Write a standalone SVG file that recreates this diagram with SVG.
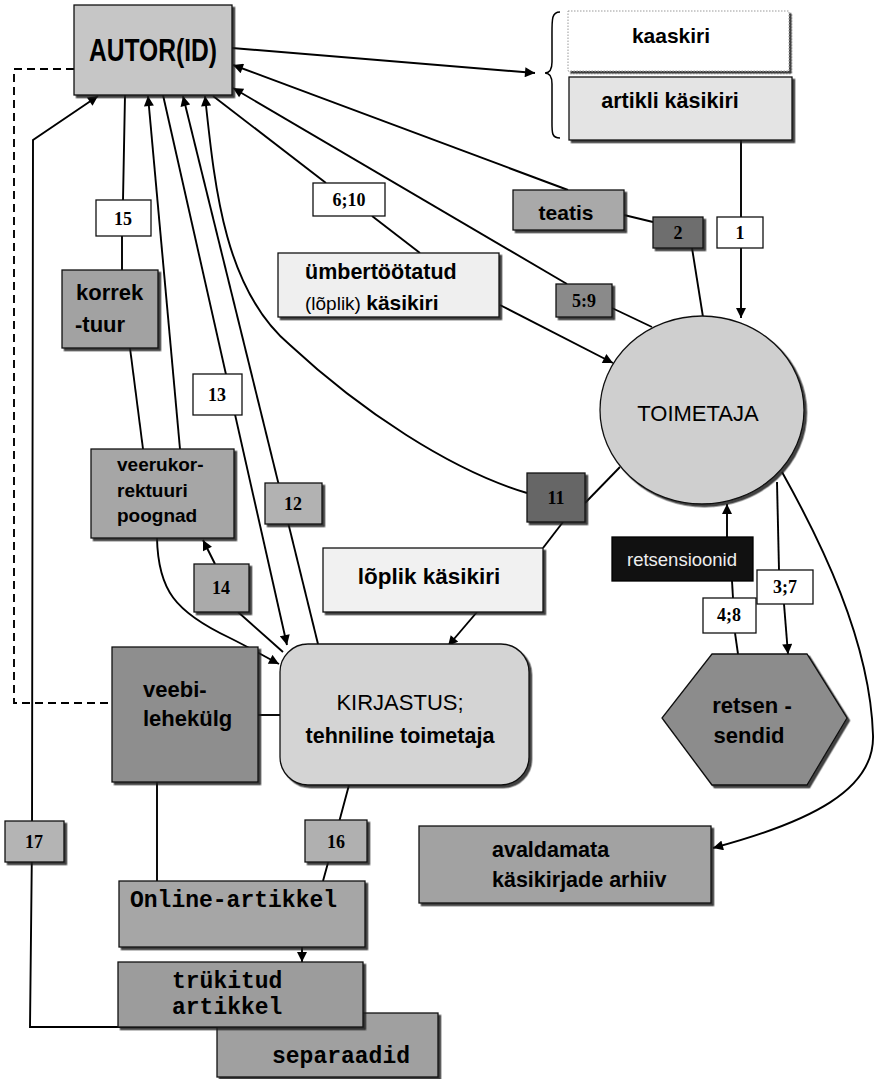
<svg xmlns="http://www.w3.org/2000/svg" width="877" height="1079" viewBox="0 0 877 1079">
<defs>
<marker id="ah" viewBox="0 0 10 10" refX="10" refY="5" markerWidth="12" markerHeight="10" markerUnits="userSpaceOnUse" orient="auto"><path d="M0,0 L10,5 L0,10 z" fill="#000"/></marker>
<filter id="ds" x="-10%" y="-10%" width="130%" height="130%"><feDropShadow dx="2.5" dy="2.5" stdDeviation="0.6" flood-color="#222" flood-opacity="0.85"/></filter>
</defs>
<style>
.c{fill:none;stroke:#000;stroke-width:1.9}
.a{marker-end:url(#ah)}
.n{stroke:#111;stroke-width:1.3;filter:url(#ds)}
.w{fill:#fff;stroke:#111;stroke-width:1.3}
.t{font-family:"Liberation Sans",Arial,sans-serif;font-weight:bold;fill:#000}
.r{font-family:"Liberation Sans",Arial,sans-serif;font-weight:normal;fill:#000}
.m{font-family:"Liberation Mono","Courier New",monospace;font-weight:bold;font-size:23px;fill:#000}
.num{font-family:"Liberation Serif","Times New Roman",serif;font-weight:bold;font-size:18px;fill:#000;text-anchor:middle}
</style>
<rect width="877" height="1079" fill="#fff"/>
<g id="connectors">
<path class="c a" d="M232,48 L535,73" stroke-width="2.5"/>
<path class="c a" d="M568,190 L233,65"/>
<path class="c a" d="M567,284 L233,88"/>
<path class="c" d="M612,308 L652,327"/>
<path class="c" d="M326,183 L213,96"/>
<path class="c" d="M420,253 L372,216"/>
<path class="c a" d="M500,305 L613,363"/>
<path class="c" d="M624,215 L653,222"/>
<path class="c" d="M692,248 L703,317"/>
<path class="c" d="M741,140 L741,217"/>
<path class="c a" d="M741,248 L741,318"/>
<path class="c a" d="M527,493 C450,470 360,410 290,345 C225,290 215,190 205,96"/>
<path class="c" d="M620,467 L585,503"/>
<path class="c" d="M563,522 L543,548"/>
<path class="c a" d="M477,612 L448,646"/>
<path class="c" d="M125,95 L123,200 M122,236 L122,270"/>
<path class="c" d="M130,348 L143,449"/>
<path class="c a" d="M180,449 L148,96"/>
<path class="c a" d="M163,95 L287,645"/>
<path class="c a" d="M318,644 L183,96"/>
<path class="c a" d="M157,538 C158,590 175,612 230,638 C250,648 264,656 279,664"/>
<path class="c" d="M283,652 L238,612"/>
<path class="c a" d="M215,564 L203,540"/>
<path class="c" d="M258,715 L280,715"/>
<path class="c" d="M74,69 L14,69 L14,703 L112,703" stroke-width="2" stroke-dasharray="8,5"/>
<path class="c a" d="M217,1027 L30,1027 L32,842 L33,140 L98,96"/>
<path class="c" d="M157,782 L157,881"/>
<path class="c" d="M349,785 L334,841 L323,881"/>
<path class="c a" d="M302,947 L302,962"/>
<path class="c" d="M777,482 L779,570"/>
<path class="c a" d="M784,604 L788,654"/>
<path class="c" d="M738,654 L735,633"/>
<path class="c" d="M733,598 L732,581"/>
<path class="c a" d="M727,537 L727,504"/>
<path class="c a" d="M782,472 C820,540 870,640 873,735 C875,790 810,822 713,848"/>
</g>
<g id="autor"><rect class="n" x="74" y="5" width="158" height="90" fill="#c6c6c6"/><text class="t" x="153" y="61" font-size="32" text-anchor="middle" textLength="128" lengthAdjust="spacingAndGlyphs">AUTOR(ID)</text></g>
<g id="brace"><path d="M560,12 C551,12 552,20 552,40 L552,62 C552,70 549,73 545,73 C549,73 552,76 552,84 L552,118 C552,132 551,138 560,138" fill="none" stroke="#000" stroke-width="1.5"/></g>
<g id="kaaskiri"><rect x="568" y="11" width="221" height="60" fill="#fff" stroke="#999" stroke-width="1" stroke-dasharray="1.5,1.5" filter="url(#ds)"/><text class="t" x="671" y="43" font-size="21" text-anchor="middle">kaaskiri</text></g>
<g id="artikli"><rect class="n" x="569" y="77" width="223" height="63" fill="#e4e4e4"/><text class="t" x="670" y="108" font-size="21.5" text-anchor="middle">artikli käsikiri</text></g>
<g id="teatis"><rect class="n" x="513" y="190" width="111" height="40" fill="#a9a9a9"/><text class="t" x="566" y="220" font-size="21" text-anchor="middle">teatis</text></g>
<g id="n2"><rect class="n" x="653" y="217" width="50" height="31" fill="#6e6e6e"/><text class="num" x="678" y="239">2</text></g>
<g id="n1"><rect class="w" x="717" y="217" width="46" height="31"/><text class="num" x="740" y="239">1</text></g>
<g id="n610"><rect class="w" x="313" y="183" width="72" height="33"/><text class="num" x="349" y="206">6;10</text></g>
<g id="n59"><rect class="n" x="556" y="284" width="56" height="33" fill="#8a8a8a"/><text class="num" x="584" y="307">5:9</text></g>
<g id="umbertootatud"><rect class="n" x="278" y="253" width="221" height="64" fill="#efefef"/><text class="t" x="305" y="279" font-size="21.5">ümbertöötatud</text><text x="305" y="310"><tspan class="r" font-size="19">(lõplik) </tspan><tspan class="t" font-size="21">käsikiri</tspan></text></g>
<g id="toimetaja"><ellipse cx="702" cy="410" rx="102" ry="94" fill="#cfcfcf" stroke="#111" stroke-width="1.3" filter="url(#ds)"/><text class="r" x="698" y="421" font-size="22" text-anchor="middle">TOIMETAJA</text></g>
<g id="n11"><rect class="n" x="527" y="473" width="58" height="49" fill="#666"/><text class="num" x="556" y="504">11</text></g>
<g id="n15"><rect class="w" x="96" y="200" width="55" height="36"/><text class="num" x="123" y="225">15</text></g>
<g id="korrektuur"><rect class="n" x="62" y="270" width="96" height="78" fill="#a2a2a2"/><text class="t" x="76" y="300" font-size="22">korrek</text><text class="t" x="75" y="332" font-size="22">-tuur</text></g>
<g id="n13"><rect class="w" x="193" y="374" width="49" height="41"/><text class="num" x="217" y="401">13</text></g>
<g id="veerukorrektuur"><rect class="n" x="91" y="449" width="143" height="89" fill="#a6a6a6"/><text class="t" x="117" y="471" font-size="19">veerukor-</text><text class="t" x="117" y="497" font-size="19">rektuuri</text><text class="t" x="117" y="522" font-size="19">poognad</text></g>
<g id="n12"><rect class="n" x="265" y="483" width="57" height="41" fill="#b2b2b2"/><text class="num" x="293" y="510">12</text></g>
<g id="n14"><rect class="n" x="194" y="564" width="55" height="48" fill="#aaa"/><text class="num" x="221" y="594">14</text></g>
<g id="loplik"><rect class="n" x="323" y="548" width="220" height="64" fill="#f1f1f1"/><text class="t" x="429" y="584" font-size="22.5" text-anchor="middle">lõplik käsikiri</text></g>
<g id="retsensioonid"><rect x="612" y="537" width="141" height="44" fill="#111" stroke="#000" stroke-width="1.3"/><text class="r" x="682" y="566" font-size="18.5" text-anchor="middle" style="fill:#eee">retsensioonid</text></g>
<g id="n37"><rect class="w" x="757" y="570" width="56" height="34"/><text class="num" x="785" y="593">3;7</text></g>
<g id="n48"><rect class="w" x="703" y="598" width="53" height="35"/><text class="num" x="729" y="621">4;8</text></g>
<g id="retsensendid"><polygon points="712,654 807,654 847,718 807,785 712,785 662,718" fill="#8c8c8c" stroke="#111" stroke-width="1.3" filter="url(#ds)"/><text class="t" x="752" y="713" font-size="22" text-anchor="middle">retsen -</text><text class="t" x="749" y="743" font-size="22" text-anchor="middle">sendid</text></g>
<g id="kirjastus"><rect class="n" x="280" y="644" width="249" height="141" rx="28" ry="28" fill="#d4d4d4"/><text class="r" x="400" y="710" font-size="22" text-anchor="middle">KIRJASTUS;</text><text class="t" x="400" y="743" font-size="21.5" text-anchor="middle">tehniline toimetaja</text></g>
<g id="veebilehekulg"><rect class="n" x="112" y="647" width="146" height="135" fill="#8e8e8e"/><text class="t" x="143" y="697" font-size="22">veebi-</text><text class="t" x="143" y="726" font-size="22">lehekülg</text></g>
<g id="n17"><rect class="n" x="5" y="821" width="59" height="41" fill="#b4b4b4"/><text class="num" x="34" y="848">17</text></g>
<g id="n16"><rect class="n" x="305" y="820" width="62" height="42" fill="#b0b0b0"/><text class="num" x="336" y="848">16</text></g>
<g id="arhiiv"><rect class="n" x="419" y="826" width="292" height="77" fill="#a2a2a2"/><text class="t" x="492" y="857" font-size="21.5">avaldamata</text><text class="t" x="492" y="887" font-size="21.5">käsikirjade arhiiv</text></g>
<g id="online"><rect class="n" x="119" y="881" width="246" height="66" fill="#a6a6a6"/><text class="m" x="130" y="907">Online-artikkel</text></g>
<g id="separaadid"><rect class="n" x="217" y="1013" width="221" height="64" fill="#a0a0a0"/><text class="m" x="272" y="1063">separaadid</text></g>
<g id="trukitud"><rect class="n" x="118" y="962" width="245" height="65" fill="#9c9c9c"/><text class="m" x="172" y="988">trükitud</text><text class="m" x="172" y="1014">artikkel</text></g>
</svg>
